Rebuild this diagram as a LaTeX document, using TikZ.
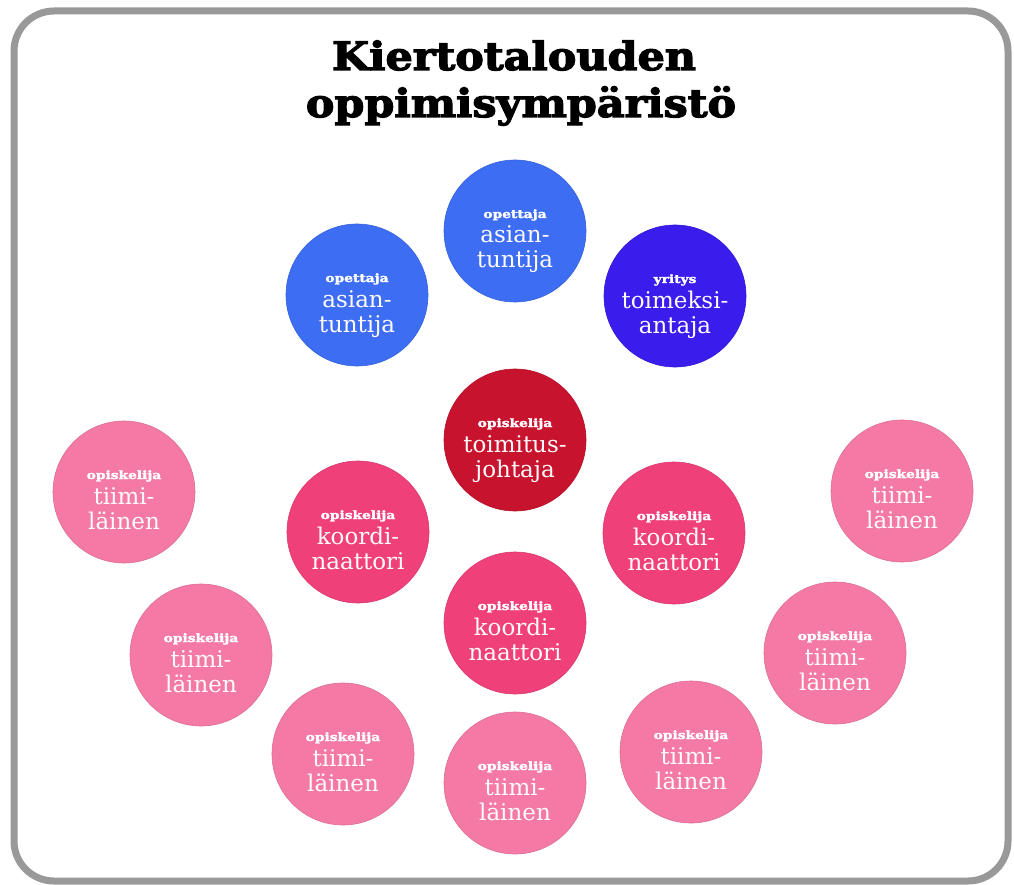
\documentclass[tikz,border=0pt]{standalone}
\usepackage{graphicx}
\usepackage{fontspec}
\setmainfont{DejaVu Serif}
\newfontfamily\heavyfont[FakeBold=3]{DejaVu Serif Bold}
\newfontfamily\smallheavy[FakeBold=2]{DejaVu Serif Bold}
\definecolor{bluec}{HTML}{3D6DF2}
\definecolor{purplec}{HTML}{3A1DEC}
\definecolor{redc}{HTML}{C8132F}
\definecolor{koordc}{HTML}{F0407A}
\definecolor{tiimic}{HTML}{F47AA5}
\definecolor{framec}{HTML}{999999}
\tikzset{
  rolec/.style={circle, minimum size=142pt, inner sep=0pt, line width=0.6pt},
  smalltxt/.style={anchor=base, inner sep=0pt, text=white, font=\fontsize{11.5}{11.5}\smallheavy},
  bigtxt/.style={anchor=base, inner sep=0pt, text=white!94!pink, font=\fontsize{23}{23}\selectfont},
  titletxt/.style={anchor=base, inner sep=0pt, font=\fontsize{39}{39}\heavyfont}
}
\newcommand\rolenode[7]{%
  \node[rolec, fill=#4, draw=#4!90!black] (#1) at (#2,#3) {};
  \node[smalltxt] (#1s) at (#2,#3-13) {\scalebox{1.2}[1]{#5}};
  \node[bigtxt] (#1a) at (#2,#3+12) {#6};
  \node[bigtxt] (#1b) at (#2,#3+37) {#7};
}
\begin{document}
\begin{tikzpicture}[x=1pt,y=-1pt]
\useasboundingbox (0,0) rectangle (1014,885);
\fill[white] (0,0) rectangle (1014,885);
\draw[framec, line width=7pt, rounded corners=40pt] (14,11) rectangle (1008,881);
\node[titletxt] (title1) at (514,70) {\scalebox{1.1}[1]{Kiertotalouden}};
\node[titletxt] (title2) at (521,117) {\scalebox{1.1}[1]{oppimisympäristö}};
\rolenode{b1}{515}{231}{bluec}{opettaja}{asian-}{tuntija}
\rolenode{b2}{357}{295}{bluec}{opettaja}{asian-}{tuntija}
\rolenode{y1}{675}{296}{purplec}{yritys}{toimeksi-}{antaja}
\rolenode{r1}{515}{440}{redc}{opiskelija}{toimitus-}{johtaja}
\rolenode{k1}{358}{532}{koordc}{opiskelija}{koordi-}{naattori}
\rolenode{k2}{674}{533}{koordc}{opiskelija}{koordi-}{naattori}
\rolenode{k3}{515}{623}{koordc}{opiskelija}{koordi-}{naattori}
\rolenode{t1}{124}{492}{tiimic}{opiskelija}{tiimi-}{läinen}
\rolenode{t2}{902}{491}{tiimic}{opiskelija}{tiimi-}{läinen}
\rolenode{t3}{201}{655}{tiimic}{opiskelija}{tiimi-}{läinen}
\rolenode{t4}{835}{653}{tiimic}{opiskelija}{tiimi-}{läinen}
\rolenode{t5}{343}{754}{tiimic}{opiskelija}{tiimi-}{läinen}
\rolenode{t6}{691}{752}{tiimic}{opiskelija}{tiimi-}{läinen}
\rolenode{t7}{515}{783}{tiimic}{opiskelija}{tiimi-}{läinen}
\end{tikzpicture}
\end{document}
